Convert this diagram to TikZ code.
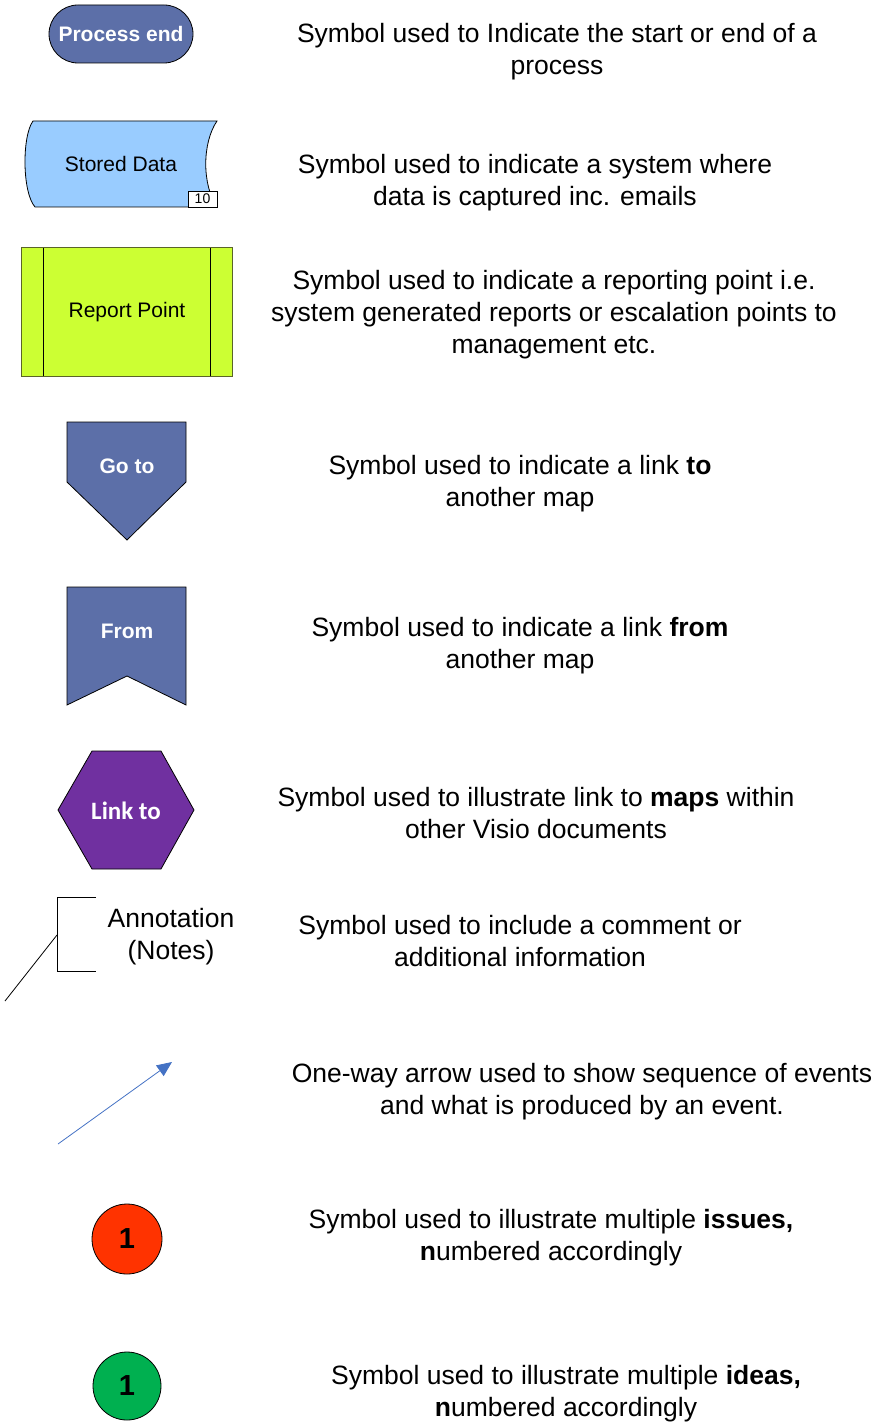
\documentclass[tikz,border=0pt]{standalone}
\usepackage{fontspec}
\setmainfont{Liberation Sans}
\newfontfamily\calfont{Carlito}
\usetikzlibrary{arrows.meta}
\definecolor{procblue}{RGB}{92,111,168}
\definecolor{storedblue}{RGB}{153,204,255}
\definecolor{reportgreen}{RGB}{204,255,51}
\definecolor{linkpurple}{RGB}{112,48,160}
\definecolor{arrowblue}{RGB}{68,114,196}
\definecolor{issuered}{RGB}{255,51,0}
\definecolor{ideagreen}{RGB}{0,176,80}
\definecolor{reportedge}{RGB}{90,100,40}
\tikzset{
  desc/.style={align=center, inner sep=0pt, font=\fontsize{26.5}{32}\selectfont},
  shapeline/.style={draw=black, line width=0.8pt, line join=miter},
  wlabel/.style={text=white, inner sep=0pt, font=\fontsize{21}{25}\selectfont\bfseries},
  blabel/.style={text=black, inner sep=0pt, font=\fontsize{21}{25}\selectfont},
  numcircle/.style={circle, draw=black, line width=0.8pt, minimum size=70pt, inner sep=0pt, font=\fontsize{29}{32}\selectfont\bfseries}
}
\begin{document}
\begin{tikzpicture}[x=1pt,y=-1pt]
\useasboundingbox (0,0) rectangle (888,1423);

% 1 Process end
\draw[shapeline, fill=procblue, rounded corners=29pt] (49,5) rectangle (193,63);
\node[wlabel] (pe) at (121,34) {Process end};
\node[desc] (t1) at (557,52) {Symbol used to Indicate the start or end of a\\process};

% 2 Stored Data
\draw[shapeline, fill=storedblue] (33,121) -- (217,121)
  .. controls (202,143) and (202,185) .. (217,207) -- (35,207)
  .. controls (22,192) and (22,136) .. (33,121) -- cycle;
\node[blabel] (sd) at (121,164) {Stored Data};
\node[draw=black, line width=0.6pt, fill=white, minimum width=29pt, minimum height=16pt, inner sep=0pt, font=\fontsize{14}{16}\selectfont] (sdn) at (202.5,199) {10};
\node[desc] (t2) at (535,183) {Symbol used to indicate a system where\\data is captured inc. emails};

% 3 Report Point
\draw[draw=reportedge, line width=1pt, fill=reportgreen] (21,248) rectangle (232,376);
\draw[black, line width=0.8pt] (43,248) -- (43,376) (210,248) -- (210,376);
\node[blabel] (rp) at (127,312) {Report Point};
\node[desc] (t3) at (554,315) {Symbol used to indicate a reporting point i.e.\\system generated reports or escalation points to\\management etc.};

% 4 Go to
\draw[shapeline, fill=procblue] (67,422) -- (186,422) -- (186,482) -- (127,540) -- (67,482) -- cycle;
\node[wlabel] (gt) at (127,466) {Go to};
\node[desc] (t4) at (520,484) {Symbol used to indicate a link \textbf{to}\\another map};

% 5 From
\draw[shapeline, fill=procblue] (67,587) -- (186,587) -- (186,705) -- (127,676) -- (67,705) -- cycle;
\node[wlabel] (fr) at (127,631) {From};
\node[desc] (t5) at (520,646) {Symbol used to indicate a link \textbf{from}\\another map};

% 6 Link to
\draw[shapeline, fill=linkpurple] (58,810) -- (92,751) -- (161,751) -- (194,810) -- (161,869) -- (92,869) -- cycle;
\node[text=white, inner sep=0pt, font=\calfont\fontsize{25}{28}\selectfont\bfseries] (lt) at (126,811) {Link to};
\node[desc] (t6) at (536,813) {Symbol used to illustrate link to \textbf{maps} within\\other Visio documents};

% 7 Annotation
\coordinate (b1) at (96,897);
\coordinate (b2) at (57,897);
\coordinate (b3) at (57,971);
\coordinate (b4) at (96,971);
\coordinate (bm) at (57,935);
\coordinate (bl) at (5,1001);
\draw[black, line width=0.8pt] (b1) -- (b2) -- (b3) -- (b4);
\draw[black, line width=0.8pt] (bm) -- (bl);
\node[desc] (an) at (171,937) {Annotation\\(Notes)};
\node[desc] (t7) at (520,941) {Symbol used to include a comment or\\additional information};

% 8 Arrow
\coordinate (a0) at (58,1144);
\coordinate (a1) at (172,1062);
\draw[arrowblue, line width=0.8pt, -{Triangle[length=15pt,width=13pt]}] (a0) -- (a1);
\node[desc] (t8) at (582,1092) {One-way arrow used to show sequence of events\\and what is produced by an event.};

% 9 issues
\node[numcircle, fill=issuered] (c1) at (127,1239) {1};
\node[desc] (t9) at (551,1238) {Symbol used to illustrate multiple \textbf{issues,}\\\textbf{n}umbered accordingly};

% 10 ideas
\node[numcircle, fill=ideagreen, minimum size=68pt] (c2) at (127,1386) {1};
\node[desc] (t10) at (566,1394) {Symbol used to illustrate multiple \textbf{ideas,}\\\textbf{n}umbered accordingly};
\end{tikzpicture}
\end{document}
